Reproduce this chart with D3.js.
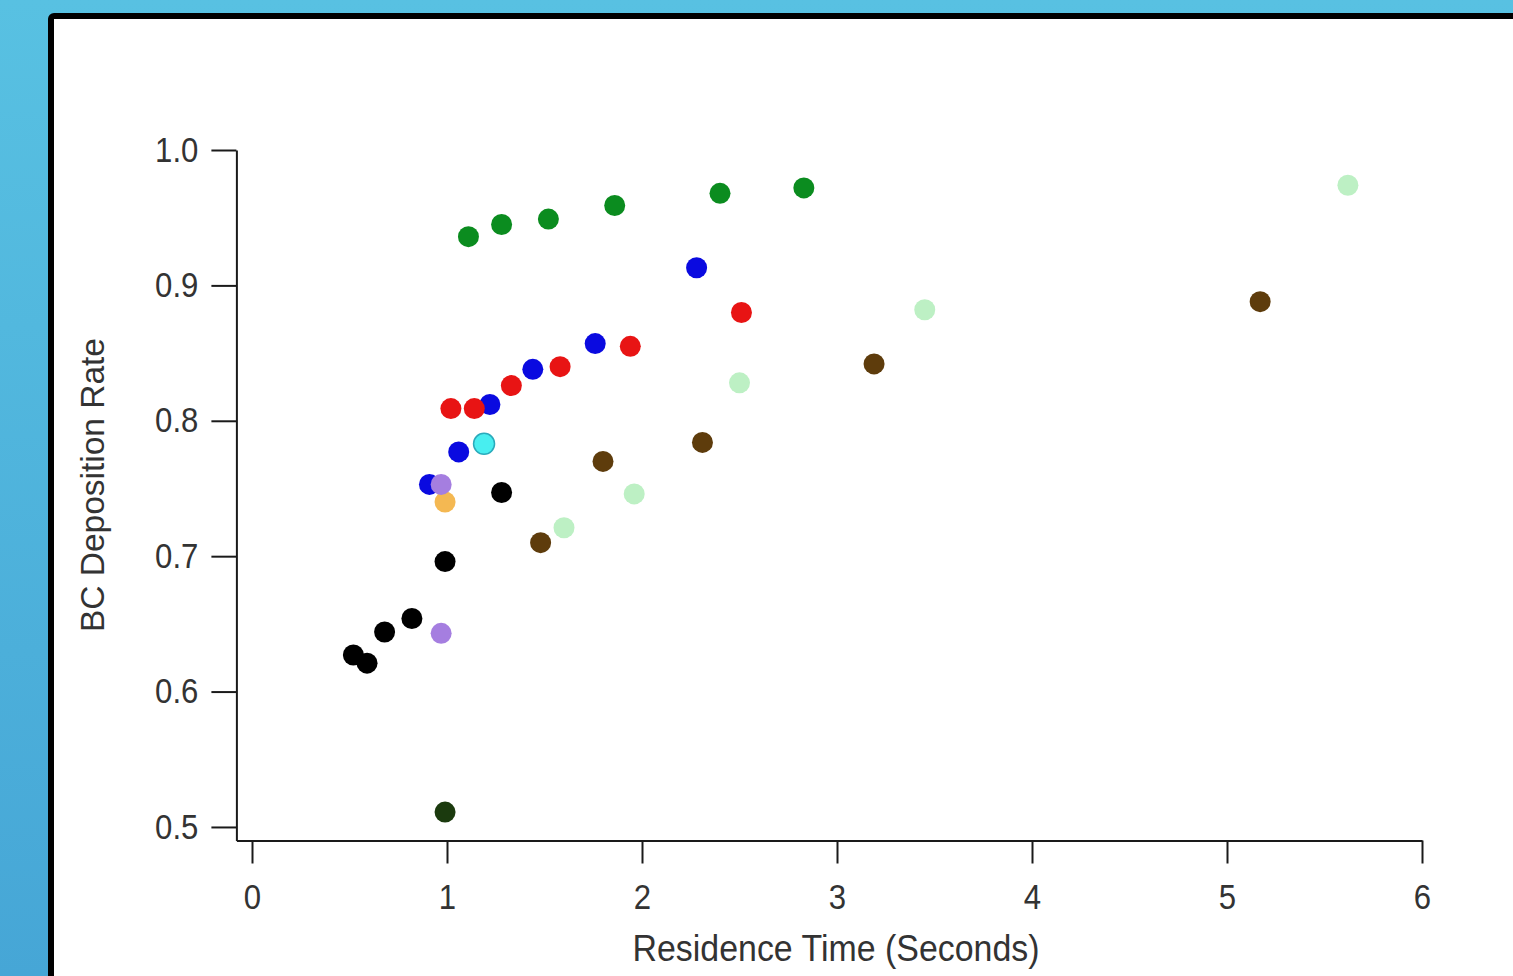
<!DOCTYPE html>
<html>
<head>
<meta charset="utf-8">
<script src="https://cdn.jsdelivr.net/npm/d3@7"></script>
<style>
  html, body { margin: 0; padding: 0; overflow: hidden; }
  svg { display: block; font-family: "Liberation Sans", Arial, sans-serif; }
</style>
</head>
<body>
<svg id="chart" width="1513" height="976"></svg>
<script>
/* data: residence time (s) vs BC deposition rate */
const xTicks = [0, 1, 2, 3, 4, 5, 6]
const yTicks = [0.5, 0.6, 0.7, 0.8, 0.9, 1.0]

const greenTime = [1.11, 1.28, 1.52, 1.86, 2.40, 2.83]
const greenRate = [0.936, 0.945, 0.949, 0.959, 0.968, 0.972]

const blueTime = [0.91, 1.06, 1.22, 1.44, 1.76, 2.28]
const blueRate = [0.753, 0.777, 0.812, 0.838, 0.857, 0.913]

const redTime = [1.02, 1.14, 1.33, 1.58, 1.94, 2.51]
const redRate = [0.809, 0.809, 0.826, 0.840, 0.855, 0.880]

const blackTime = [0.52, 0.59, 0.68, 0.82, 0.99, 1.28]
const blackRate = [0.627, 0.621, 0.644, 0.654, 0.696, 0.747]

const darkGreenTime = [0.99]
const darkGreenRate = [0.511]

const brownTime = [1.48, 1.80, 2.31, 3.19, 5.17]
const brownRate = [0.710, 0.770, 0.784, 0.842, 0.888]

const lightGreenTime = [1.60, 1.96, 2.50, 3.45, 5.62]
const lightGreenRate = [0.721, 0.746, 0.828, 0.882, 0.974]

const cyanTime = [1.19]
const cyanRate = [0.783]

const orangeTime = [0.99]
const orangeRate = [0.740]

const purpleTime = [0.97, 0.97]
const purpleRate = [0.753, 0.643]

const groups = [
    {t: greenTime, r: greenRate, fill: "#0b8c1f"},
    {t: blueTime, r: blueRate, fill: "#0a0ae0"},
    {t: redTime, r: redRate, fill: "#e81414"},
    {t: blackTime, r: blackRate, fill: "#000000"},
    {t: darkGreenTime, r: darkGreenRate, fill: "#1b3a0e"},
    {t: brownTime, r: brownRate, fill: "#5e3c0c"},
    {t: lightGreenTime, r: lightGreenRate, fill: "#bdf0c4"},
    {t: cyanTime, r: cyanRate, fill: "#48eef0", stroke: "#2aaabb"},
    {t: orangeTime, r: orangeRate, fill: "#f4b852"},
    {t: purpleTime, r: purpleRate, fill: "#a57ee0"}
]

const points = groups.flatMap(g => g.t.map((t, i) => ({t: t, r: g.r[i], fill: g.fill, stroke: g.stroke})))

const svg = d3.select("#chart")

// page background + white panel
const grad = svg.append("defs").append("linearGradient")
    .attr("id", "bg").attr("x1", 0).attr("y1", 0).attr("x2", 0).attr("y2", 1)
grad.append("stop").attr("offset", "0%").attr("stop-color", "#58c1e2")
grad.append("stop").attr("offset", "100%").attr("stop-color", "#46a6d6")

svg.append("rect").attr("width", 1513).attr("height", 976).attr("fill", "url(#bg)")
svg.append("rect")
    .attr("x", 51).attr("y", 16)
    .attr("width", 1500).attr("height", 1000)
    .attr("rx", 3)
    .attr("fill", "#ffffff")
    .attr("stroke", "#000000")
    .attr("stroke-width", 6)

// scales: axes start a little before 0 / 0.5, like the original
const x = d3.scaleLinear().domain([-0.08, 6]).range([236.4, 1422])
const y = d3.scaleLinear().domain([0.49, 1.0]).range([840.5, 150])

const squeeze = sel => sel.each(function () {
    const len = this.getComputedTextLength()
    d3.select(this).attr("textLength", len * 0.89).attr("lengthAdjust", "spacingAndGlyphs")
})

const xAxis = svg.append("g")
    .attr("transform", "translate(0," + y(0.49) + ")")
    .call(d3.axisBottom(x).tickValues(xTicks).tickFormat(d3.format("d"))
        .tickSize(23).tickSizeOuter(0).tickPadding(21))

const yAxis = svg.append("g")
    .attr("transform", "translate(" + x(-0.08) + ",0)")
    .call(d3.axisLeft(y).tickValues(yTicks).tickFormat(d3.format(".1f"))
        .tickSize(25).tickSizeOuter(0).tickPadding(13))

svg.selectAll(".domain, .tick line")
    .attr("stroke", "#1a1a1a")
    .attr("stroke-width", 2)

svg.selectAll(".tick text")
    .attr("font-family", "'Liberation Sans', Arial, sans-serif")
    .attr("font-size", 35)
    .attr("fill", "#333333")
    .call(squeeze)

// axis titles
svg.append("text")
    .attr("x", 836).attr("y", 961)
    .attr("text-anchor", "middle")
    .attr("font-size", 36)
    .attr("fill", "#333333")
    .attr("textLength", 407).attr("lengthAdjust", "spacingAndGlyphs")
    .text("Residence Time (Seconds)")

svg.append("text")
    .attr("transform", "translate(104,485) rotate(-90)")
    .attr("text-anchor", "middle")
    .attr("font-size", 33)
    .attr("fill", "#333333")
    .attr("textLength", 294).attr("lengthAdjust", "spacingAndGlyphs")
    .text("BC Deposition Rate")

// markers
svg.append("g")
    .selectAll("circle")
    .data(points)
    .enter()
    .append("circle")
    .attr("cx", d => x(d.t))
    .attr("cy", d => y(d.r))
    .attr("r", 10.5)
    .attr("fill", d => d.fill)
    .attr("stroke", d => d.stroke || "none")
    .attr("stroke-width", 1.5)
</script>
</body>
</html>
